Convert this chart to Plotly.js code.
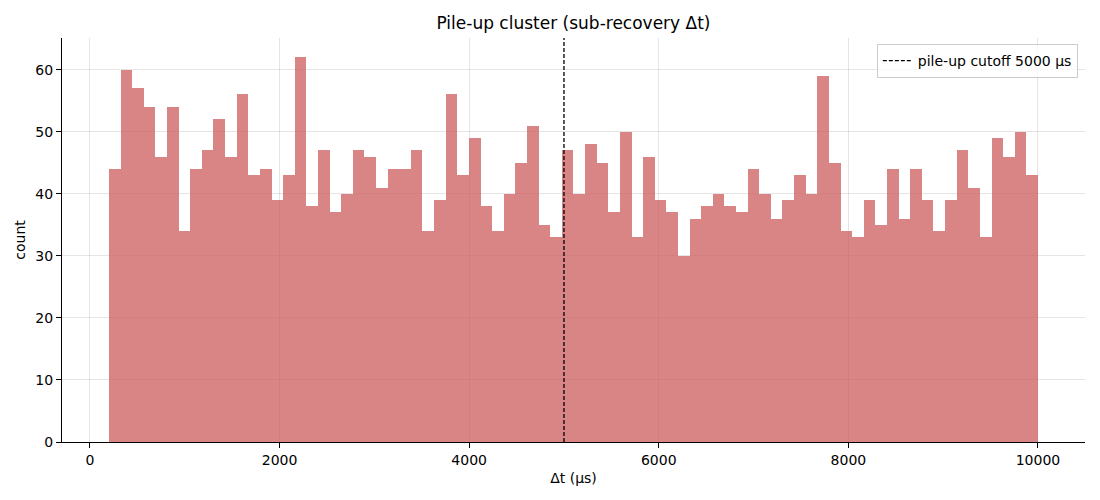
<!DOCTYPE html>
<html>
<head>
<meta charset="utf-8">
<script src="https://cdn.plot.ly/plotly-3.0.1.min.js"></script>
<style>html,body{margin:0;padding:0;background:#fff}#chart{width:1100px;height:500px}</style>
</head>
<body>
<div id="chart"></div>
<script>
// Histogram bins: first edge and bin width (μs)
const binStart = 200;
const binWidth = 122.5;
// Counts per bin (80 bins, 200 .. 10000 μs)
const counts = [
  44,60,57,54,46,54,34,44,47,52,
  46,56,43,44,39,43,62,38,47,37,
  40,47,46,41,44,44,47,34,39,56,
  43,49,38,34,40,45,51,35,33,47,
  40,48,45,37,50,33,46,39,37,30,
  36,38,40,38,37,44,40,36,39,43,
  40,59,45,34,33,39,35,44,36,44,
  39,34,39,47,41,33,49,46,50,43
];
const cutoff = 5000;
const cutoffLabel = 'pile-up cutoff 5000 μs';
const xTicks = [0, 2000, 4000, 6000, 8000, 10000];
const yTicks = [0, 10, 20, 30, 40, 50, 60];

const centers = counts.map((_, i) => binStart + (i + 0.5) * binWidth);

const font = 'DejaVu Sans, sans-serif';

const traces = [
  {
    type: 'bar',
    x: centers,
    y: counts,
    width: binWidth,
    marker: {color: 'rgba(205,92,92,0.75)', line: {width: 0}},
    showlegend: false,
    hoverinfo: 'x+y'
  },
  {
    type: 'scatter',
    mode: 'lines',
    x: [cutoff, cutoff],
    y: [0, 1],
    yaxis: 'y2',
    line: {color: '#000', width: 1.3, dash: '4px,2px'},
    name: cutoffLabel,
    showlegend: true
  }
];

const layout = {
  width: 1100,
  height: 500,
  margin: {l: 62, r: 15, t: 38, b: 58},
  paper_bgcolor: '#fff',
  plot_bgcolor: '#fff',
  font: {family: font, size: 14, color: '#000'},
  bargap: 0,
  title: {
    text: 'Pile-up cluster (sub-recovery Δt)',
    font: {family: font, size: 17, color: '#000'},
    xref: 'paper', x: 0.5, xanchor: 'center',
    yref: 'container', y: 1 - 23 / 500, yanchor: 'middle'
  },
  xaxis: {
    range: [-295, 10496],
    tickvals: xTicks,
    tickformat: 'd',
    showgrid: true,
    gridcolor: 'rgba(0,0,0,0.1)',
    gridwidth: 1,
    zeroline: false,
    showline: true,
    linecolor: '#000',
    linewidth: 1,
    ticks: 'outside',
    ticklen: 5,
    tickcolor: '#000',
    tickfont: {family: font, size: 14, color: '#000'},
    title: {text: 'Δt (μs)', font: {family: font, size: 14, color: '#000'}, standoff: 6}
  },
  yaxis: {
    range: [0, 65.1],
    tickvals: yTicks,
    showgrid: true,
    gridcolor: 'rgba(0,0,0,0.1)',
    gridwidth: 1,
    zeroline: false,
    showline: true,
    linecolor: '#000',
    linewidth: 1,
    ticks: 'outside',
    ticklen: 5,
    tickcolor: '#000',
    tickfont: {family: font, size: 14, color: '#000'},
    title: {text: 'count', font: {family: font, size: 14, color: '#000'}, standoff: 6}
  },
  yaxis2: {
    overlaying: 'y',
    range: [0, 1],
    visible: false,
    fixedrange: true
  },
  legend: {
    x: 0.993, xanchor: 'right',
    y: 0.985, yanchor: 'top',
    bgcolor: 'rgba(255,255,255,0.8)',
    bordercolor: '#cccccc',
    borderwidth: 1,
    tracegroupgap: 0,
    font: {family: font, size: 14, color: '#000'}
  },
  showlegend: true
};

Plotly.newPlot('chart', traces, layout, {displayModeBar: false, staticPlot: true});
</script>
</body>
</html>
